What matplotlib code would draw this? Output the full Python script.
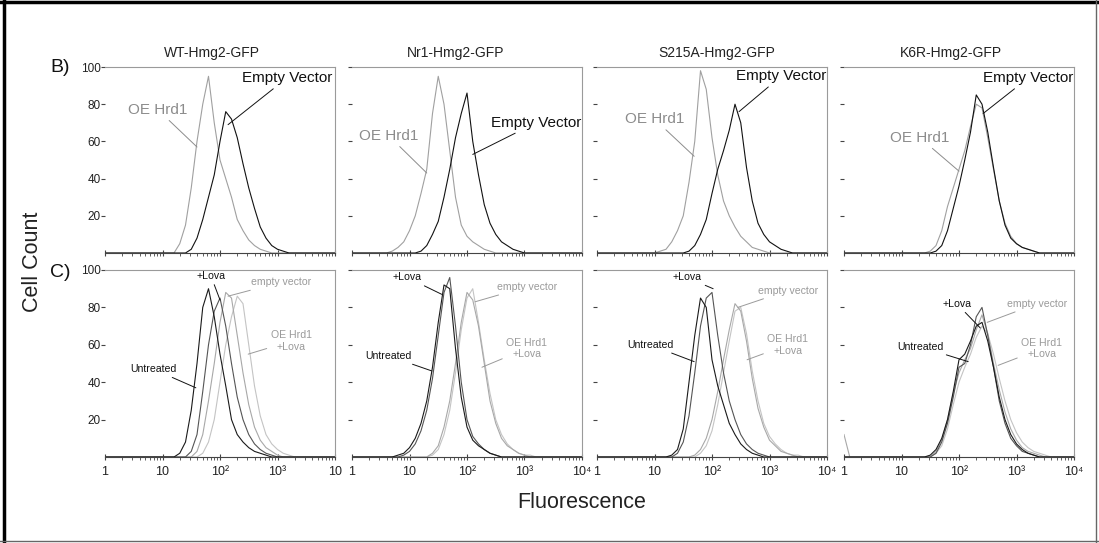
import numpy as np
import matplotlib
matplotlib.use("Agg")
import matplotlib.pyplot as plt
from matplotlib.ticker import FixedLocator, LogLocator, NullFormatter

plt.rcParams['font.family'] = ['Liberation Sans', 'DejaVu Sans']

# log10(fluorescence) bins, 0.1 decade apart
log_grid = np.round(np.arange(0, 41) * 0.1, 1)

titles = ['WT-Hmg2-GFP', 'Nr1-Hmg2-GFP', 'S215A-Hmg2-GFP', 'K6R-Hmg2-GFP']

# row B: OE Hrd1 vs empty vector (cell count, % of max)
b_oe = [
    [0,0,0,0,0,0,0,0,0,0,0,0,0, 5,15,35,60,80,95,70,50,40,30,18,12,7,4,2,1, 0,0,0,0,0,0,0,0,0,0,0,0],
    [0,0,0,0,0,0,0, 1,3,6,12,20,32,45,75,95,80,55,30,15,9,6,4,2,1, 0,0,0,0,0,0,0,0,0,0,0,0,0,0,0,0],
    [0,0,0,0,0,0,0,0,0,0,0, 1,2,6,12,20,38,60,98,88,62,42,28,20,14,9,6,3,2,1, 0,0,0,0,0,0,0,0,0,0,0],
    [0,0,0,0,0,0,0,0,0,0,0,0,0,0,0, 1,4,12,25,35,45,55,68,80,78,62,45,28,16,9,5,3,2,1, 0,0,0,0,0,0,0],
]
b_ev = [
    [0,0,0,0,0,0,0,0,0,0,0,0,0,0,0, 2,8,18,30,42,60,76,72,62,48,35,24,14,8,4,2,1, 0,0,0,0,0,0,0,0,0],
    [0,0,0,0,0,0,0,0,0,0,0,0, 1,4,10,17,30,45,62,75,86,60,42,26,16,10,6,4,2,1, 0,0,0,0,0,0,0,0,0,0,0],
    [0,0,0,0,0,0,0,0,0,0,0,0,0,0,0,0, 1,4,10,18,32,45,55,66,80,70,46,28,16,10,6,4,2,1, 0,0,0,0,0,0,0],
    [0,0,0,0,0,0,0,0,0,0,0,0,0,0,0,0, 1,4,12,24,36,50,65,85,80,65,46,28,15,8,5,3,2,1, 0,0,0,0,0,0,0],
]

# row C: untreated, +Lova, empty vector, OE Hrd1 +Lova
c_un = [
    [0,0,0,0,0,0,0,0,0,0,0,0,0, 2,8,25,50,80,90,75,55,38,20,12,8,5,3,2,1, 0,0,0,0,0,0,0,0,0,0,0,0],
    [0,0,0,0,0,0,0,0, 1,2,5,10,18,30,48,72,92,90,58,32,16,9,6,4,2,1, 0,0,0,0,0,0,0,0,0,0,0,0,0,0,0],
    [0,0,0,0,0,0,0,0,0,0,0,0,0, 1,4,15,40,65,85,80,52,38,28,18,12,7,4,2,1, 0,0,0,0,0,0,0,0,0,0,0,0],
    [0,0,0,0,0,0,0,0,0,0,0,0,0,0,0, 1,4,10,20,35,52,55,62,70,72,62,48,32,20,12,7,4,2,1, 0,0,0,0,0,0,0],
]
c_lova = [
    [0,0,0,0,0,0,0,0,0,0,0,0,0,0,0, 3,12,35,60,78,85,70,50,32,20,12,7,4,2,1, 0,0,0,0,0,0,0,0,0,0,0],
    [0,0,0,0,0,0,0,0,0, 1,3,7,14,25,42,65,88,96,70,40,20,11,7,4,2,1, 0,0,0,0,0,0,0,0,0,0,0,0,0,0,0],
    [0,0,0,0,0,0,0,0,0,0,0,0,0,0, 2,8,22,45,70,85,88,65,45,30,20,12,7,4,2,1, 0,0,0,0,0,0,0,0,0,0,0],
    [0,0,0,0,0,0,0,0,0,0,0,0,0,0,0,0, 2,8,18,32,48,50,60,75,80,65,48,30,18,10,6,3,2,1, 0,0,0,0,0,0,0],
]
c_ev = [
    [0,0,0,0,0,0,0,0,0,0,0,0,0,0,0,0, 3,12,30,50,72,88,85,65,45,28,16,9,5,3,1, 0,0,0,0,0,0,0,0,0,0],
    [0,0,0,0,0,0,0,0,0,0,0,0,0,0, 2,6,16,30,50,72,88,84,70,50,30,18,10,6,4,2,1, 0,0,0,0,0,0,0,0,0,0],
    [0,0,0,0,0,0,0,0,0,0,0,0,0,0,0,0,0, 1,4,10,20,35,52,68,82,78,62,42,26,16,9,6,3,2,1, 0,0,0,0,0,0],
    [12,0,0,0,0,0,0,0,0,0,0,0,0,0,0,0, 3,9,20,34,45,52,58,68,76,66,50,36,24,15,9,5,3,2,1, 0,0,0,0,0,0],
]
c_oel = [
    [0,0,0,0,0,0,0,0,0,0,0,0,0,0,0,0,0, 2,8,20,40,60,75,86,82,60,38,22,12,7,4,2,1, 0,0,0,0,0,0,0,0],
    [0,0,0,0,0,0,0,0,0,0,0,0,0,0, 1,4,12,25,45,68,85,90,72,52,34,20,12,7,4,2,1,1, 0,0,0,0,0,0,0,0,0],
    [0,0,0,0,0,0,0,0,0,0,0,0,0,0,0,0,0,0, 2,6,14,28,45,62,78,80,66,46,30,18,11,7,4,2,1,1, 0,0,0,0,0],
    [0,0,0,0,0,0,0,0,0,0,0,0,0,0,0,0, 2,6,15,28,40,48,55,64,70,66,55,42,30,20,13,8,5,3,2,1, 0,0,0,0,0],
]

for group in (b_oe, b_ev, c_un, c_lova, c_ev, c_oel):
    for s in group:
        assert len(s) == len(log_grid), len(s)

fl = 10 ** log_grid

fig = plt.figure(figsize=(10.99, 5.43), dpi=100)
W, H = 1099, 543
lefts = [105, 352, 597, 844]
pw = 230
rows = [(67, 253), (270, 457)]


def style_axes(ax, col, row):
    ax.set_xscale('log')
    ax.set_xlim(1, 1e4)
    ax.set_ylim(0, 100)
    for side in ['top', 'right']:
        ax.spines[side].set_color('#9a9a9a')
        ax.spines[side].set_linewidth(0.8)
    ax.spines['left'].set_visible(False)
    ax.spines['bottom'].set_color('#444444')
    ax.spines['bottom'].set_linewidth(0.8)
    ax.yaxis.set_major_locator(FixedLocator([20, 40, 60, 80, 100]))
    ax.tick_params(axis='y', length=3, width=0.8, color='#444444', pad=0,
                   labelsize=8.5, labelcolor='#222222')
    if col > 0:
        ax.set_yticklabels([])
    ax.xaxis.set_major_locator(FixedLocator([1, 10, 100, 1000, 10000]))
    ax.xaxis.set_minor_locator(LogLocator(base=10, subs=np.arange(2, 10)))
    ax.xaxis.set_minor_formatter(NullFormatter())
    ax.tick_params(axis='x', which='major', direction='inout', length=5, width=0.8,
                   color='#444444', labelsize=9, labelcolor='#222222', pad=4)
    ax.tick_params(axis='x', which='minor', direction='out', length=2, width=0.6,
                   color='#444444')
    if row == 0:
        ax.set_xticklabels([])
    else:
        last = '10' if col == 0 else '10⁴'
        ax.set_xticklabels(['1', '10', '10²', '10³', last])


def note(ax, text, pt, txt, color, size):
    ax.annotate(text, xy=(10 ** pt[0], pt[1]), xycoords='data',
                xytext=txt, textcoords='axes fraction', ha='center', va='center',
                fontsize=size, color=color,
                arrowprops=dict(arrowstyle='-', color=color, lw=0.7,
                                shrinkA=1, shrinkB=0))


# annotation placements: (text pos in axes fraction, point as (log10 x, count))
b_notes_oe = [((0.23, 0.77), (1.6, 57)), ((0.16, 0.63), (1.3, 43)),
              ((0.25, 0.72), (1.69, 52)), ((0.33, 0.62), (2.0, 44))]
b_notes_ev = [((0.79, 0.94), (2.14, 69)), ((0.80, 0.70), (2.1, 53)),
              ((0.80, 0.95), (2.47, 76)), ((0.80, 0.94), (2.42, 75))]
c_notes = [
    {'un': ((0.21, 0.47), (1.58, 37)), 'lova': ((0.46, 0.97), (2.0, 84)),
     'ev': ((0.765, 0.935), (2.14, 86)), 'oel': ((0.81, 0.62), (2.49, 55))},
    {'un': ((0.16, 0.54), (1.39, 46)), 'lova': ((0.24, 0.96), (1.56, 87)),
     'ev': ((0.76, 0.91), (2.14, 83)), 'oel': ((0.76, 0.58), (2.26, 48))},
    {'un': ((0.23, 0.60), (1.69, 51)), 'lova': ((0.39, 0.96), (2.02, 90)),
     'ev': ((0.83, 0.89), (2.45, 80)), 'oel': ((0.83, 0.60), (2.61, 52))},
    {'un': ((0.33, 0.59), (2.16, 51)), 'lova': ((0.49, 0.82), (2.37, 69)),
     'ev': ((0.84, 0.82), (2.49, 72)), 'oel': ((0.86, 0.58), (2.68, 49))},
]
title_x = [0.465, 0.45, 0.52, 0.465]

for col in range(4):
    L = lefts[col]
    for row, (top, bot) in enumerate(rows):
        ax = fig.add_axes([L / W, 1 - bot / H, pw / W, (bot - top) / H])
        style_axes(ax, col, row)
        if row == 0:
            ax.plot(fl, b_oe[col], color='#a0a0a0', lw=0.8)
            ax.plot(fl, b_ev[col], color='#111111', lw=0.8)
            note(ax, 'OE Hrd1', b_notes_oe[col][1], b_notes_oe[col][0], '#8c8c8c', 11)
            note(ax, 'Empty Vector', b_notes_ev[col][1], b_notes_ev[col][0], '#111111', 11)
            ax.text(title_x[col], 1.075, titles[col], transform=ax.transAxes,
                    ha='center', va='center', fontsize=10, color='#222222')
        else:
            ax.plot(fl, c_oel[col], color='#c4c4c4', lw=0.8)
            ax.plot(fl, c_ev[col], color='#a8a8a8', lw=0.8)
            ax.plot(fl, c_lova[col], color='#555555', lw=0.8)
            ax.plot(fl, c_un[col], color='#1a1a1a', lw=0.8)
            n = c_notes[col]
            note(ax, 'Untreated', n['un'][1], n['un'][0], '#111111', 7.6)
            note(ax, '+Lova', n['lova'][1], n['lova'][0], '#111111', 7.6)
            note(ax, 'empty vector', n['ev'][1], n['ev'][0], '#9a9a9a', 7.6)
            note(ax, 'OE Hrd1\n+Lova', n['oel'][1], n['oel'][0], '#9a9a9a', 7.6)

fig.text(60 / W, 1 - 67 / H, 'B)', fontsize=14, ha='center', va='center', color='#111111')
fig.text(60 / W, 1 - 272 / H, 'C)', fontsize=14, ha='center', va='center', color='#111111')
fig.text(33 / W, 1 - 262 / H, 'Cell Count', fontsize=15.5, rotation=90,
         ha='center', va='center', color='#222222')
fig.text(582 / W, 1 - 503 / H, 'Fluorescence', fontsize=15.5,
         ha='center', va='center', color='#222222')

# outer frame
fig.add_artist(plt.Line2D([4 / W, 4 / W], [0, 1], color='black', lw=2.5))
fig.add_artist(plt.Line2D([0, 1], [1 - 2 / H, 1 - 2 / H], color='black', lw=2.5))
fig.add_artist(plt.Line2D([0, 1], [1 - 541 / H, 1 - 541 / H], color='#666666', lw=1))
fig.add_artist(plt.Line2D([1096 / W, 1096 / W], [0, 1], color='#666666', lw=1))

fig.savefig('out.png', dpi=100)
